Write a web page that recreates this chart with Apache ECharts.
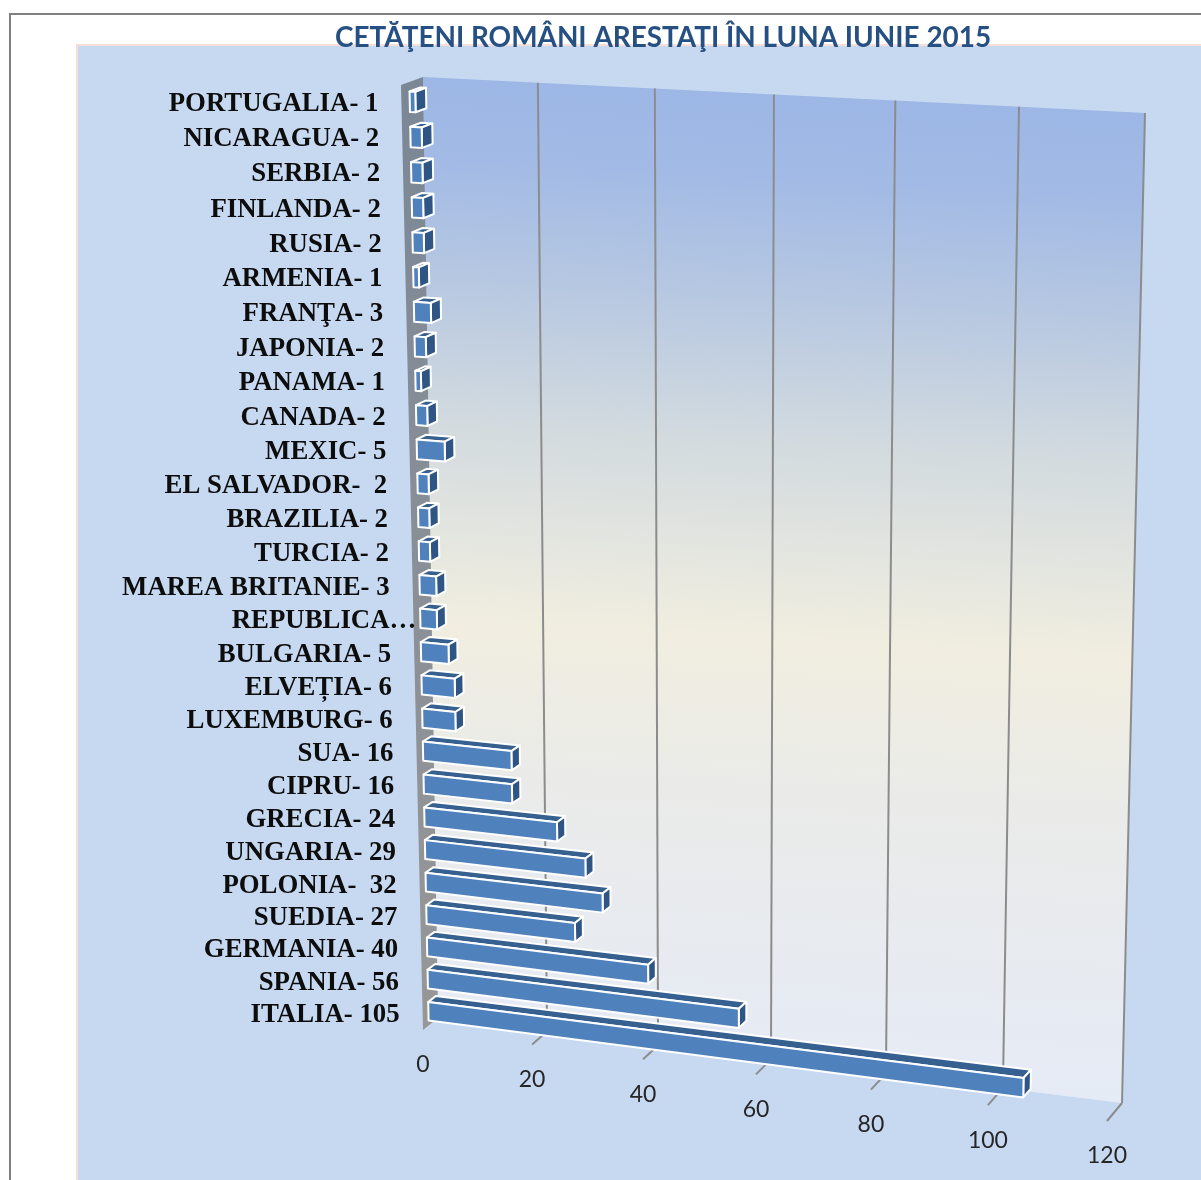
<!DOCTYPE html>
<html><head><meta charset="utf-8">
<style>html,body{margin:0;padding:0;background:#fff}#c{width:1201px;height:1180px}</style>
<script src="https://cdn.jsdelivr.net/npm/echarts@6/dist/echarts.min.js"></script>
</head><body><div id="c"></div>
<script>
const titleText = 'CETĂŢENI ROMÂNI ARESTAŢI ÎN LUNA IUNIE 2015';
const labels = ['PORTUGALIA- 1','NICARAGUA- 2','SERBIA- 2','FINLANDA- 2','RUSIA- 2','ARMENIA- 1','FRANŢA- 3','JAPONIA- 2','PANAMA- 1','CANADA- 2','MEXIC- 5','EL SALVADOR-  2','BRAZILIA- 2','TURCIA- 2','MAREA BRITANIE- 3','REPUBLICA…','BULGARIA- 5','ELVEȚIA- 6','LUXEMBURG- 6','SUA- 16','CIPRU- 16','GRECIA- 24','UNGARIA- 29','POLONIA-  32','SUEDIA- 27','GERMANIA- 40','SPANIA- 56','ITALIA- 105'];
const values = [1,2,2,2,2,1,3,2,1,2,5,2,2,2,3,3,5,6,6,16,16,24,29,32,27,40,56,105];
const ticks = [0,20,40,60,80,100,120];

// perspective of the chart's back wall (screen corners of the unit square)
const TL=[423,77], TR=[1145,113], BR=[1122,1103], BL=[438,1018];
// depth vectors (back wall -> front edge of the floor) at those corners
const dTL=[-22,8], dTR=[-20,12], dBR=[-15,18], dBL=[-15,12];
const H=(function(){
  const [x0,y0]=TL,[x1,y1]=TR,[x2,y2]=BR,[x3,y3]=BL;
  const dx1=x1-x2,dx2=x3-x2,sx=x0-x1+x2-x3,dy1=y1-y2,dy2=y3-y2,sy=y0-y1+y2-y3;
  const den=dx1*dy2-dx2*dy1;
  const g=(sx*dy2-dx2*sy)/den,h=(dx1*sy-sx*dy1)/den;
  return {a:x1-x0+g*x1,b:x3-x0+h*x3,c:x0,d:y1-y0+g*y1,e:y3-y0+h*y3,f:y0,g,h};
})();
function proj(u,t,d){
  const w=H.g*u+H.h*t+1;
  const x=(H.a*u+H.b*t+H.c)/w, y=(H.d*u+H.e*t+H.f)/w;
  const mix=k=>(1-u)*(1-t)*dTL[k]+u*(1-t)*dTR[k]+u*t*dBR[k]+(1-u)*t*dBL[k];
  return [x+d*mix(0), y+d*mix(1)];
}
// map a data pair through the hidden cartesian axes to the unit square
function unit(params,api,v,i){
  const r=params.coordSys, p=api.coord([v,i]);
  return [(p[0]-r.x)/r.width,(p[1]-r.y)/r.height];
}
const poly=(pts,style)=>({type:'polygon',shape:{points:pts},style});
const SERIF='"Liberation Serif","DejaVu Serif",serif', SANS='Lato,"Open Sans",sans-serif';
const BAR_FRONT=0.62, BAR_BACK=0.13, BAR_HALF=0.29, BAR_SHIFT=0.002;

const option={
  animation:false,
  title:{text:titleText,left:335,top:24,padding:0,textStyle:{fontFamily:SANS,fontWeight:'bold',fontSize:27.9,color:'#265084'}},
  tooltip:{show:false},
  grid:{left:400,top:100,width:700,height:900},
  xAxis:{type:'value',min:0,max:120,interval:20,show:false},
  yAxis:{type:'category',data:labels,inverse:true,show:false},
  graphic:[
    {type:'rect',z:-10,shape:{x:10,y:14,width:1300,height:1300},style:{fill:'#fff',stroke:'#808080',lineWidth:2}},
    {type:'rect',z:-9,shape:{x:77,y:45,width:1300,height:1300},style:{fill:'#C6D9F1',stroke:'#F6DFD9',lineWidth:2}}
  ],
  series:[
    {type:'custom',name:'wall',silent:true,z:1,data:[[0]],renderItem(){
      const a=proj(0,0,0),b=proj(1,0,0),c=proj(1,1,0),d=proj(0,1,0),e=proj(0,1,1),f=proj(0,0,1);
      return {type:'group',children:[
        poly([a,b,c,d],{fill:{type:'linear',x:0.54,y:0,x2:0.46,y2:1,colorStops:[
          {offset:0,color:'#9BB6E6'},{offset:0.1,color:'#A2BAE5'},{offset:0.22,color:'#B7C8E1'},{offset:0.36,color:'#D3DBDF'},{offset:0.55,color:'#F1EEE0'},{offset:0.7,color:'#EAEBE9'},{offset:1,color:'#E5EBF7'}]}}),
        poly([a,d,e,f],{fill:{type:'linear',x:0,y:0,x2:0,y2:1,colorStops:[{offset:0,color:'#7B8796'},{offset:1,color:'#979797'}]}})
      ]};
    }},
    {type:'custom',name:'grid',silent:true,z:2,data:ticks.slice(1).map(v=>[v,0]),encode:{x:0,y:1},renderItem(params,api){
      const v=api.value(0), u=unit(params,api,v,0)[0];
      const line=(p,q)=>({type:'line',shape:{x1:p[0],y1:p[1],x2:q[0],y2:q[1]},style:{stroke:'#8C8C8C',lineWidth:2}});
      return {type:'group',children:[line(proj(u,0,0),proj(u,1,0)),line(proj(u,1,0),proj(u,1,1))]};
    }},
    {type:'custom',name:'bars',silent:true,z:3,data:values.map((v,i)=>[v,i]),encode:{x:0,y:1},renderItem(params,api){
      const v=api.value(0), i=api.value(1);
      const q=unit(params,api,v,i), u=q[0], tc=q[1]+BAR_SHIFT, u0=0;
      const bh=api.size([0,1])[1]/params.coordSys.height*BAR_HALF;
      const t0=tc-bh,t1=tc+bh,F=BAR_FRONT,B=BAR_BACK;
      const st=c=>({fill:c,stroke:'#fff',lineWidth:2,lineJoin:'round'});
      return {type:'group',children:[
        poly([proj(u0,t0,F),proj(u,t0,F),proj(u,t0,B),proj(u0,t0,B)],st('#36608F')),
        poly([proj(u,t0,F),proj(u,t1,F),proj(u,t1,B),proj(u,t0,B)],st('#2F5585')),
        poly([proj(u0,t0,F),proj(u,t0,F),proj(u,t1,F),proj(u0,t1,F)],st('#4F81BD'))
      ]};
    }},
    {type:'custom',name:'categoryLabels',silent:true,z:4,data:labels.map((s,i)=>[0,i]),encode:{x:0,y:1},renderItem(params,api){
      const i=api.value(1), q=unit(params,api,0,i), p=proj(q[0],q[1],1), s=labels[i];
      return {type:'text',style:{text:s,x:p[0]-23+(s.endsWith('…')?26:0),y:p[1]+1,align:'right',verticalAlign:'middle',fill:'#0D0D0D',font:'bold 26.8px '+SERIF}};
    }},
    {type:'custom',name:'valueLabels',silent:true,z:4,data:ticks.map(v=>[v,27]),encode:{x:0,y:1},renderItem(params,api){
      const v=api.value(0), u=unit(params,api,v,0)[0], p=proj(u,1,1);
      return {type:'text',style:{text:String(v),x:p[0],y:p[1]+35,align:'center',verticalAlign:'middle',fill:'#262626',font:'23px '+SANS}};
    }}
  ]
};
const chart=echarts.init(document.getElementById('c'),null,{renderer:'canvas'});
chart.setOption(option);
</script></body></html>
